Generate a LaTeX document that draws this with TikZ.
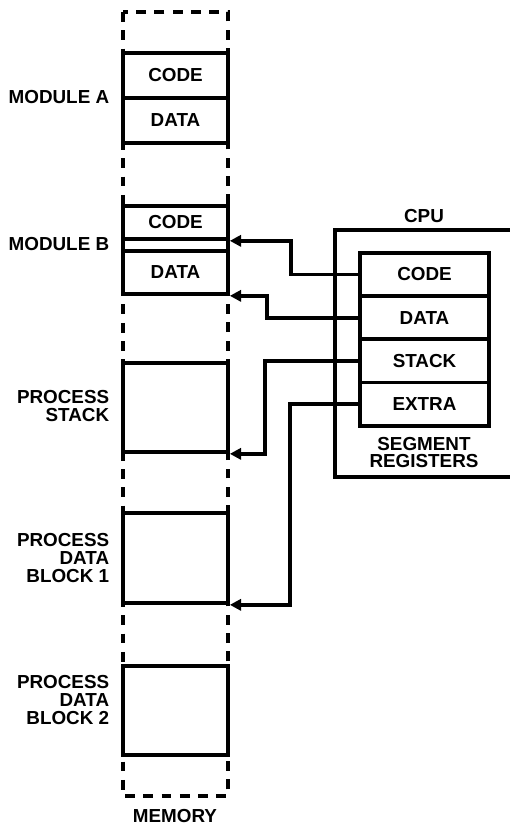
\documentclass[tikz,border=0pt]{standalone}
\usepackage{fontspec}
\setmainfont{Liberation Sans}
\usetikzlibrary{arrows.meta}
\begin{document}
\begin{tikzpicture}[x=0.025cm, y=-0.025cm, line width=2.6pt,
        font=\bfseries\fontsize{13.4}{12.5}\selectfont,
        seg/.style={draw, inner sep=0pt, minimum width=2.625cm},
        reg/.style={draw, inner sep=0pt, minimum width=3.225cm, minimum height=1.08cm},
        lbl/.style={anchor=east, align=right, inner sep=0pt},
        ptr/.style={-{Triangle[length=8pt, width=8pt]}}]
        \useasboundingbox (0, 0) rectangle (510, 825);
        \draw[dash pattern=on 7pt off 6pt](123, 12) rectangle (228, 796);

        \node[seg, minimum height=1.125cm] (codeA) at (175.5, 75.5) {CODE};
        \node[seg, minimum height=1.125cm] (dataA) at (175.5, 120.5) {DATA};
        \node[seg, minimum height=2.2cm] (modB) at (175.5, 250) {};
        \node[seg, minimum height=0.825cm] (codeB) at (175.5, 222.5) {CODE};
        \node[seg, minimum height=1.075cm] (dataB) at (175.5, 272.5) {DATA};
        \node[seg, minimum height=2.225cm] (stack) at (175.5, 407.5) {};
        \node[seg, minimum height=2.25cm] (blk1) at (175.5, 558) {};
        \node[seg, minimum height=2.225cm] (blk2) at (175.5, 710.5) {};

        \node[lbl] (labA) at (111, 97) {MODULE A};
        \node[lbl] (labB) at (111, 244) {MODULE B};
        \node[lbl] (labS) at (111, 406) {PROCESS\\STACK};
        \node[lbl] (lab1) at (111, 558) {PROCESS\\DATA\\BLOCK 1};
        \node[lbl] (lab2) at (111, 700) {PROCESS\\DATA\\BLOCK 2};
        \node (mem) at (175, 816) {MEMORY};

        \draw (512, 230) -- (335, 230) -- (335, 477) -- (512, 477);
        \node (cpu) at (424, 216) {CPU};
        \node[reg] (rcode) at (424.5, 274.5) {CODE};
        \node[reg] (rdata) at (424.5, 317.7) {DATA};
        \node[reg] (rstack) at (424.5, 360.9) {STACK};
        \node[reg] (rextra) at (424.5, 404.1) {EXTRA};
        \node[align=center] (seglab) at (424, 452.5) {SEGMENT\\REGISTERS};

        \draw[ptr] (rcode.west) -- ++(-67, 0) |- (codeB.south east);
        \draw[ptr] (rdata.west) -- ++(-91, 0) |- (dataB.south east);
        \draw[ptr] (rstack.west) -- ++(-93, 0) |- (stack.south east);
        \draw[ptr] (rextra.west) -- ++(-68, 0) |- (blk1.south east);
    \end{tikzpicture}
\end{document}
